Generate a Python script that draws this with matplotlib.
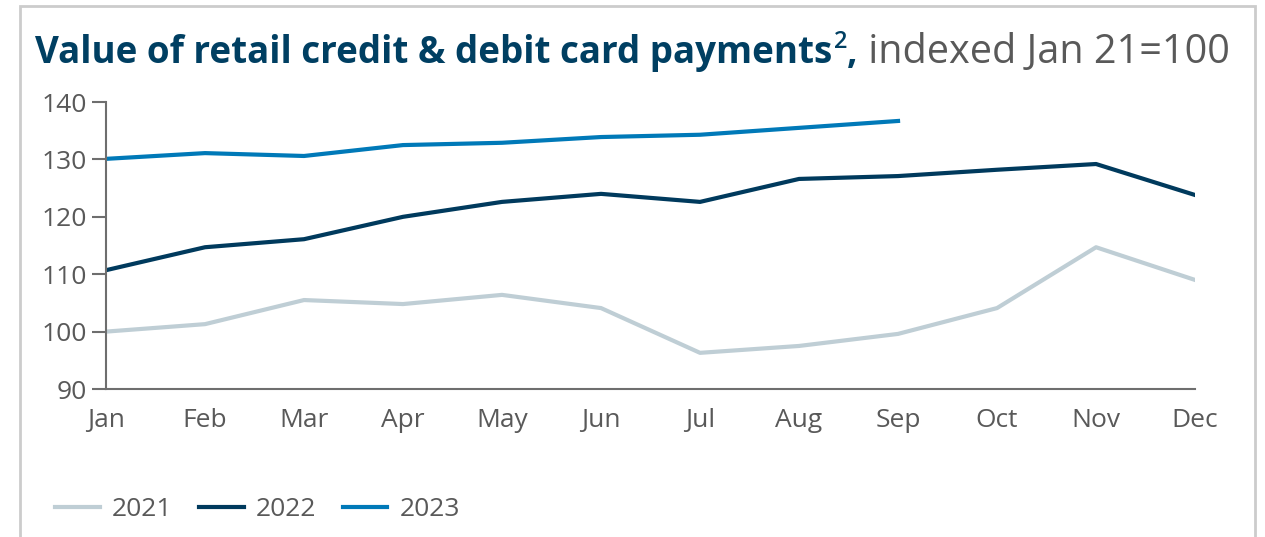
import matplotlib
matplotlib.use("Agg")
import matplotlib.pyplot as plt
from matplotlib.patches import Rectangle

months = ["Jan", "Feb", "Mar", "Apr", "May", "Jun", "Jul", "Aug", "Sep", "Oct", "Nov", "Dec"]
v2021 = [100.0, 101.3, 105.5, 104.8, 106.4, 104.1, 96.3, 97.5, 99.6, 104.1, 114.7, 109.0]
v2022 = [110.7, 114.7, 116.1, 120.0, 122.6, 124.0, 122.6, 126.6, 127.1, 128.2, 129.2, 123.8]
v2023 = [130.1, 131.1, 130.6, 132.5, 132.9, 133.9, 134.3, 135.5, 136.7]
yticks = [90, 100, 110, 120, 130, 140]

plt.rcParams['font.family'] = ['Open Sans', 'DejaVu Sans']
navy = "#003f62"
grey = "#595959"

fig = plt.figure(figsize=(12.65, 5.37), dpi=100)
ax = fig.add_axes([0.0838, 0.2756, 0.8609, 0.5344])

ax.plot(range(len(v2021)), v2021, color="#bfced5", lw=3, label="2021")
ax.plot(range(len(v2022)), v2022, color="#003a5d", lw=3, label="2022")
ax.plot(range(len(v2023)), v2023, color="#0079b8", lw=3, label="2023")

ax.set_xlim(0, 11)
ax.set_ylim(90, 140)
ax.set_yticks(yticks)
ax.set_xticks(range(12))
ax.set_xticklabels(months)
for s in ["top", "right"]:
    ax.spines[s].set_visible(False)
for s in ["left", "bottom"]:
    ax.spines[s].set_color("#6e6e6e")
    ax.spines[s].set_linewidth(1.5)
ax.tick_params(axis="y", length=10, width=1.5, color="#6e6e6e", labelsize=19, labelcolor=grey, pad=4)
ax.tick_params(axis="x", length=0, labelsize=19, labelcolor=grey, pad=14)

leg = fig.legend(loc="lower left", bbox_to_anchor=(0.025, -0.016), ncol=3, frameon=False,
                 fontsize=19, handlelength=1.7, columnspacing=1.0, handletextpad=0.45)
for t in leg.get_texts():
    t.set_color(grey)

# outer frame
fig.patches.append(Rectangle((20 / 1265, -0.1), 1235 / 1265, 1.1 - 6 / 537,
                             transform=fig.transFigure, fill=False,
                             edgecolor="#cccccc", lw=2))

# title pieces
fig.canvas.draw()
r = fig.canvas.get_renderer()
ty = 1 - 63 / 537
fs = 26.5
t1 = fig.text(35 / 1265, ty, "Value of retail credit & debit card payments",
              fontsize=fs, fontweight="bold", color=navy, va="baseline")
bb = t1.get_window_extent(r)
x = bb.x1 / fig.bbox.width
t2 = fig.text(x + 0.001, ty + 0.028, "2", fontsize=17, fontweight="semibold", color=navy, va="baseline")
bb = t2.get_window_extent(r)
x = bb.x1 / fig.bbox.width
t3 = fig.text(x, ty, ",", fontsize=fs, fontweight="bold", color=navy, va="baseline")
bb = t3.get_window_extent(r)
x = bb.x1 / fig.bbox.width
fig.text(x, ty, " indexed Jan 21=100", fontsize=28.5, color=grey, va="baseline")

fig.savefig("out.png", dpi=100)
